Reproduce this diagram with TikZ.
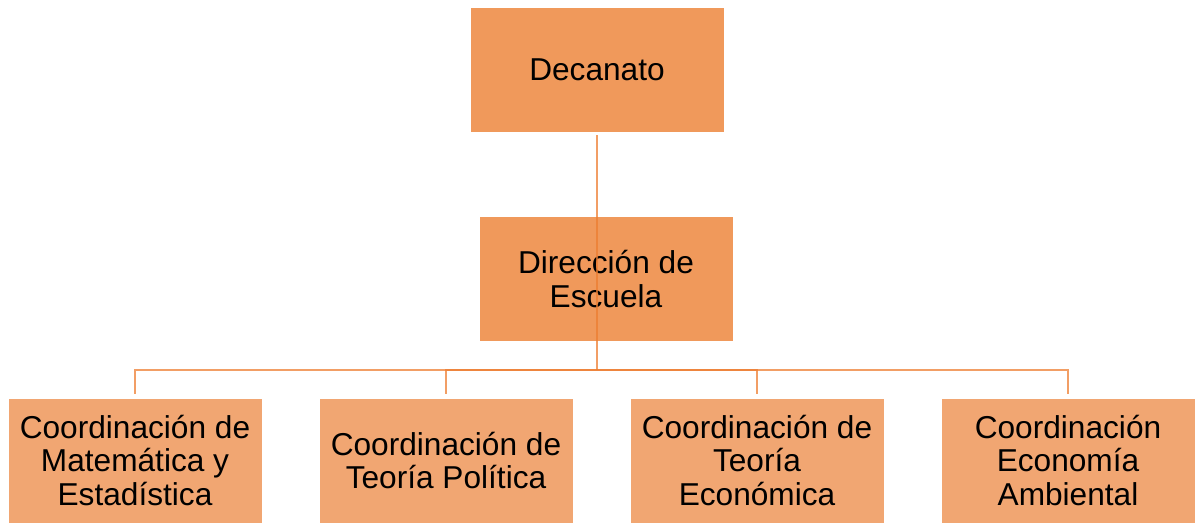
\documentclass[tikz,border=0pt]{standalone}
\usepackage{fontspec}
\setmainfont{Liberation Sans}
\usepackage{tikz}
\usetikzlibrary{positioning}
\definecolor{boxtop}{RGB}{240,153,91}
\definecolor{boxlow}{RGB}{241,166,114}
\definecolor{linkc}{RGB}{237,125,49}

\begin{document}
\begin{tikzpicture}[x=0.025cm, y=-0.025cm,
    unit/.style={fill=boxtop, draw=white, line width=0.4pt, minimum width=6.35cm,
      minimum height=3.125cm, align=center, inner sep=0pt,
      font=\fontsize{22.5}{24}\selectfont},
    coord/.style={unit, fill=boxlow},
    link/.style={draw=linkc, draw opacity=0.75, line width=1.9pt}]
\useasboundingbox (0,0) rectangle (1195,523);
\node[unit] (dec) at (597,69.5) {Decanato};
\node[unit] (dir) at (606,279) {Dirección de\\ Escuela};
\node[coord] (mat) at (135,460.5) {Coordinación de\\ Matemática y\\ Estadística};
\node[coord] (pol) at (446,460.5) {Coordinación de\\ Teoría Política};
\node[coord] (eco) at (757,460.5) {Coordinación de\\ Teoría\\ Económica};
\node[coord] (amb) at (1068,460.5) {Coordinación\\ Economía\\ Ambiental};
\coordinate (hub) at (597,370);
% trunk and branches
\draw[link, shorten <=2pt] (dec.south) -- (hub);
\draw[link, shorten >=2.8pt] (hub) -| (mat.north);
\draw[link, shorten >=2.8pt] (hub) -| (pol.north);
\draw[link, shorten >=2.8pt] (hub) -| (eco.north);
\draw[link, shorten >=2.8pt] (hub) -| (amb.north);
\end{tikzpicture}
\end{document}
